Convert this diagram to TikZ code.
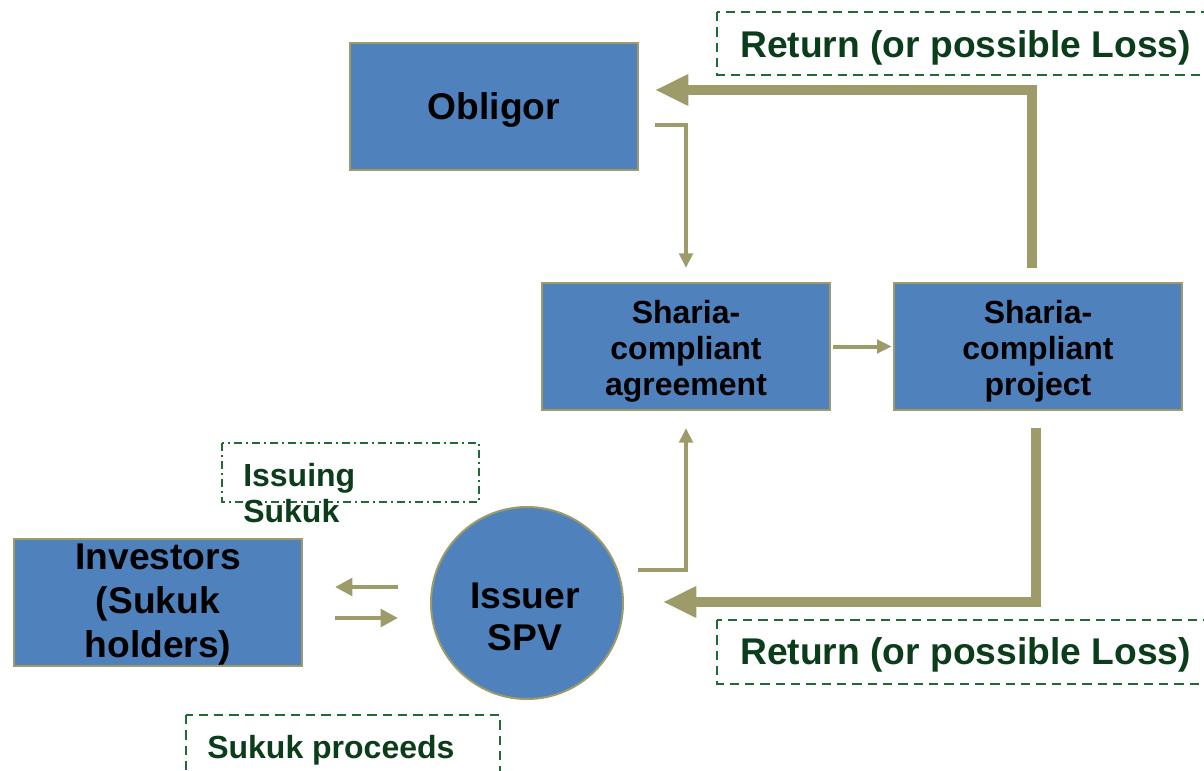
\documentclass[tikz,border=0pt]{standalone}
\usepackage{fontspec}
\setmainfont{Liberation Sans}
\usetikzlibrary{arrows.meta}
\definecolor{boxblue}{HTML}{4F81BD}
\definecolor{olivec}{HTML}{9C9B69}
\definecolor{lblgreen}{HTML}{0B3D1B}
\definecolor{dashgreen}{HTML}{1F6B35}
\begin{document}
\begin{tikzpicture}[x=0.75pt,y=-0.75pt,
  bigfont/.style={font=\bfseries\fontsize{27.9pt}{33pt}\selectfont},
  midfont/.style={font=\bfseries\fontsize{24pt}{27pt}\selectfont},
  bluebox/.style={draw=olivec, line width=1.5pt, fill=boxblue, minimum width=216pt, minimum height=95.25pt, inner sep=0pt},
  boxtext/.style={inner sep=0pt, align=center},
  thickarr/.style={draw=olivec, line width=7.5pt, -{Triangle[length=25pt,width=22pt]}},
  thinarr/.style={draw=olivec, line width=3pt, -{Triangle[length=11pt,width=10pt]}},
  midarr/.style={draw=olivec, line width=3.5pt, -{Triangle[length=13pt,width=13pt]}},
  lblbox/.style={draw=dashgreen, line width=1.5pt, dash pattern=on 7pt off 4.5pt},
  lbltext/.style={text=lblgreen, anchor=west, inner sep=0pt, align=left}
]
\useasboundingbox (0,0) rectangle (1204,771);
\begin{scope}
\clip (0,0) rectangle (1204,771);
% label boxes
\draw[lblbox] (717,12) rectangle (1215,75);
\draw[lblbox] (717,620) rectangle (1215,684);
\draw[lblbox] (186,715) rectangle (500,780);
\draw[draw=dashgreen, line width=1.5pt, dash pattern=on 6pt off 3pt on 1.5pt off 3pt] (222,443) rectangle (479,502);
\end{scope}

\node[lbltext, bigfont] (ret1) at (740,48) {Return (or possible Loss)};
\node[lbltext, bigfont] (ret2) at (740,655) {Return (or possible Loss)};
\node[lbltext, midfont] (proc) at (207,750) {Sukuk proceeds};
\node[lbltext, midfont] (iss) at (243,493) {Issuing\\Sukuk};

% boxes
\node[bluebox] (obl) at (494,106.5) {};
\node[bluebox] (agr) at (686,346.5) {};
\node[bluebox] (proj) at (1038,346.5) {};
\node[bluebox] (inv) at (158,602.5) {};
\node[circle, draw=olivec, line width=1.5pt, fill=boxblue, minimum size=144pt, inner sep=0pt] (spv) at (527,603) {};

\node[boxtext, bigfont] (oblt) at (494,110) {Obligor};
\node[boxtext, midfont] (agrt) at (686,351) {Sharia-\\compliant\\agreement};
\node[boxtext, midfont] (projt) at (1038,351) {Sharia-\\compliant\\project};
\node[boxtext, font=\bfseries\fontsize{27.9pt}{33pt}\selectfont] (invt) at (158,605) {Investors\\(Sukuk\\holders)};
\node[boxtext, font=\bfseries\fontsize{27.9pt}{32pt}\selectfont] (spvt) at (525,617) {Issuer\\SPV};

% coordinates
\coordinate (a1) at (1032,268);
\coordinate (a2) at (1032,90);
\coordinate (a3) at (655,90);
\coordinate (b1) at (1036,428);
\coordinate (b2) at (1036,602);
\coordinate (b3) at (663,602);
\coordinate (c1) at (655,125);
\coordinate (c2) at (686,125);
\coordinate (c3) at (686,268);
\coordinate (d1) at (638,570);
\coordinate (d2) at (686,570);
\coordinate (d3) at (686,428);
\coordinate (e1) at (398,587);
\coordinate (e2) at (335,587);
\coordinate (f1) at (335,618);
\coordinate (f2) at (398,618);

\draw[thickarr] (a1) -- (a2) -- (a3);
\draw[thickarr] (b1) -- (b2) -- (b3);
\draw[thinarr] (c1) -- (c2) -- (c3);
\draw[thinarr] (d1) -- (d2) -- (d3);
\draw[thinarr] ([xshift=1.5pt]agr.east) -- ([xshift=-1pt]proj.west);
\draw[midarr] (e1) -- (e2);
\draw[midarr] (f1) -- (f2);
\end{tikzpicture}
\end{document}
